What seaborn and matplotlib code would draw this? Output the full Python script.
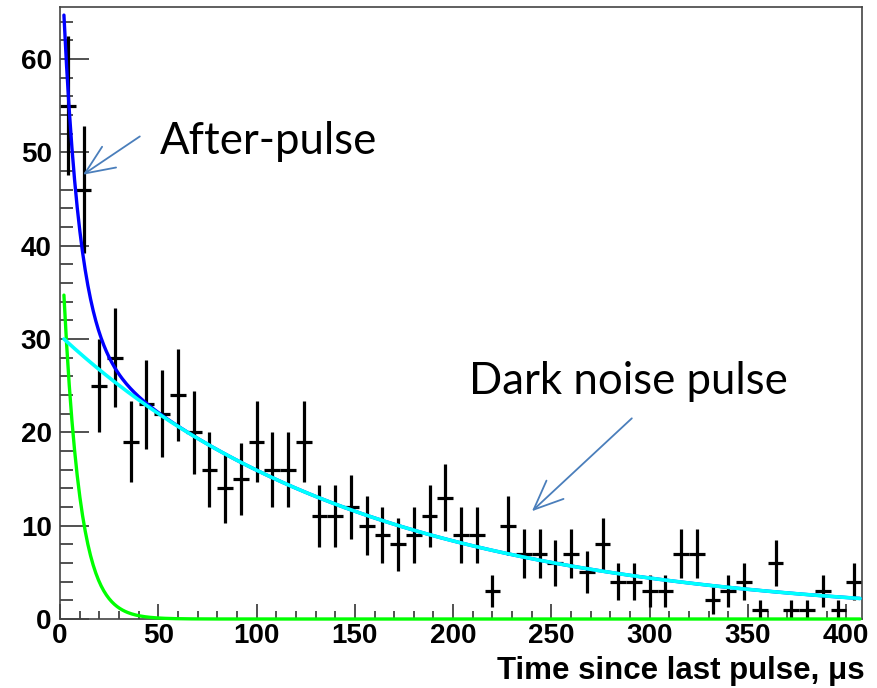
import numpy as np
import pandas as pd
import matplotlib
matplotlib.use("Agg")
import matplotlib.pyplot as plt
import seaborn as sns

# ---- data ----
bin_centers = [4, 12, 20, 28, 36, 44, 52, 60, 68, 76, 84, 92, 100, 108, 116, 124,
               132, 140, 148, 156, 164, 172, 180, 188, 196, 204, 212, 220, 228,
               236, 244, 252, 260, 268, 276, 284, 292, 300, 308, 316, 324, 332,
               340, 348, 356, 364, 372, 380, 388, 396, 404]
counts = [55, 46, 25, 28, 19, 23, 22, 24, 20, 16, 14, 15, 19, 16, 16, 19,
          11, 11, 12, 10, 9, 8, 9, 11, 13, 9, 9, 3, 10,
          7, 7, 6, 7, 5, 8, 4, 4, 3, 3, 7, 7, 2,
          3, 4, 1, 6, 1, 1, 3, 1, 4]
bin_width = 8

# fitted model parameters (two exponentials)
fit_start, fit_end = 2.0, 407.0
afterpulse_amp, afterpulse_tau = 34.7, 8.3
darknoise_amp, darknoise_tau = 30.0, 155.0

x_ticks = [0, 50, 100, 150, 200, 250, 300, 350, 400]
y_ticks = [0, 10, 20, 30, 40, 50, 60]
x_label = "Time since last pulse, \u03bcs"

# ---- figure ----
sns.set_theme(style="ticks")
plt.rcParams["font.family"] = ["Liberation Sans", "DejaVu Sans"]

fig = plt.figure(figsize=(8.77, 6.88), dpi=100)
ax = fig.add_axes([60 / 877, 1 - 619 / 688, (862 - 60) / 877, (619 - 6.7) / 688])

df = pd.DataFrame({"t": bin_centers, "n": counts})
df["err"] = np.sqrt(df["n"])

ax.errorbar(df["t"], df["n"], xerr=bin_width / 2, yerr=df["err"], fmt="none",
            ecolor="black", elinewidth=2.3, capsize=0, zorder=2)

tt = np.linspace(fit_start, fit_end, 600)
ap = afterpulse_amp * np.exp(-(tt - fit_start) / afterpulse_tau)
dn = darknoise_amp * np.exp(-(tt - fit_start) / darknoise_tau)
curves = pd.DataFrame({"t": tt, "total": ap + dn, "after": ap, "dark": dn})

sns.lineplot(data=curves, x="t", y="total", ax=ax, color="#0000ff", lw=2.4, zorder=3)
sns.lineplot(data=curves, x="t", y="after", ax=ax, color="#00ff00", lw=2.4, zorder=4, clip_on=False)
sns.lineplot(data=curves, x="t", y="dark", ax=ax, color="#00ffff", lw=2.6, zorder=5)

ax.set_xlim(0, 408)
ax.set_ylim(0, 65.6)
ax.set_xticks(x_ticks)
ax.set_yticks(y_ticks)
ax.set_xticks(np.arange(0, 409, 10), minor=True)
ax.set_yticks(np.arange(0, 65, 2), minor=True)
ax.set_xticklabels([str(v) for v in x_ticks], fontsize=20, fontweight="bold", color="black")
ax.set_yticklabels([str(v) for v in y_ticks], fontsize=20, fontweight="bold", color="black")
ax.tick_params(axis="y", which="major", direction="in", length=21, width=1.1, pad=6, color="#222222")
ax.tick_params(axis="y", which="minor", direction="in", length=9.5, width=1.1, color="#222222")
ax.tick_params(axis="x", which="major", direction="in", length=11, width=1.1, pad=3, color="#222222")
ax.tick_params(axis="x", which="minor", direction="in", length=5.5, width=1.1, color="#222222")
ax.tick_params(top=False, right=False, which="both")
for s in ax.spines.values():
    s.set_visible(True)
    s.set_color("#444444")
    s.set_linewidth(1.2)
ax.set_xlabel("")
ax.set_ylabel("")
fig.text(865 / 877, 1 - 671 / 688, x_label, ha="right", va="center",
         fontsize=22.5, fontweight="bold", color="black")

arrow_col = "#4a7ebb"
arrow_style = "->, head_length=0.7, head_width=0.3"
ax.annotate("", xy=(11.7, 47.6), xytext=(40.6, 51.7),
            arrowprops=dict(arrowstyle=arrow_style, color=arrow_col, lw=1.3,
                            mutation_scale=30, shrinkA=0, shrinkB=0))
ax.annotate("", xy=(240.1, 11.55), xytext=(290.9, 21.5),
            arrowprops=dict(arrowstyle=arrow_style, color=arrow_col, lw=1.3,
                            mutation_scale=30, shrinkA=0, shrinkB=0))
ax.text(50.8, 49.8, "After-pulse", fontsize=31.5, family=["Lato", "DejaVu Sans"],
        ha="left", va="baseline", color="black")
ax.text(208.1, 24.1, "Dark noise pulse", fontsize=31.5, family=["Lato", "DejaVu Sans"],
        ha="left", va="baseline", color="black")

fig.savefig("out.png", dpi=100)
